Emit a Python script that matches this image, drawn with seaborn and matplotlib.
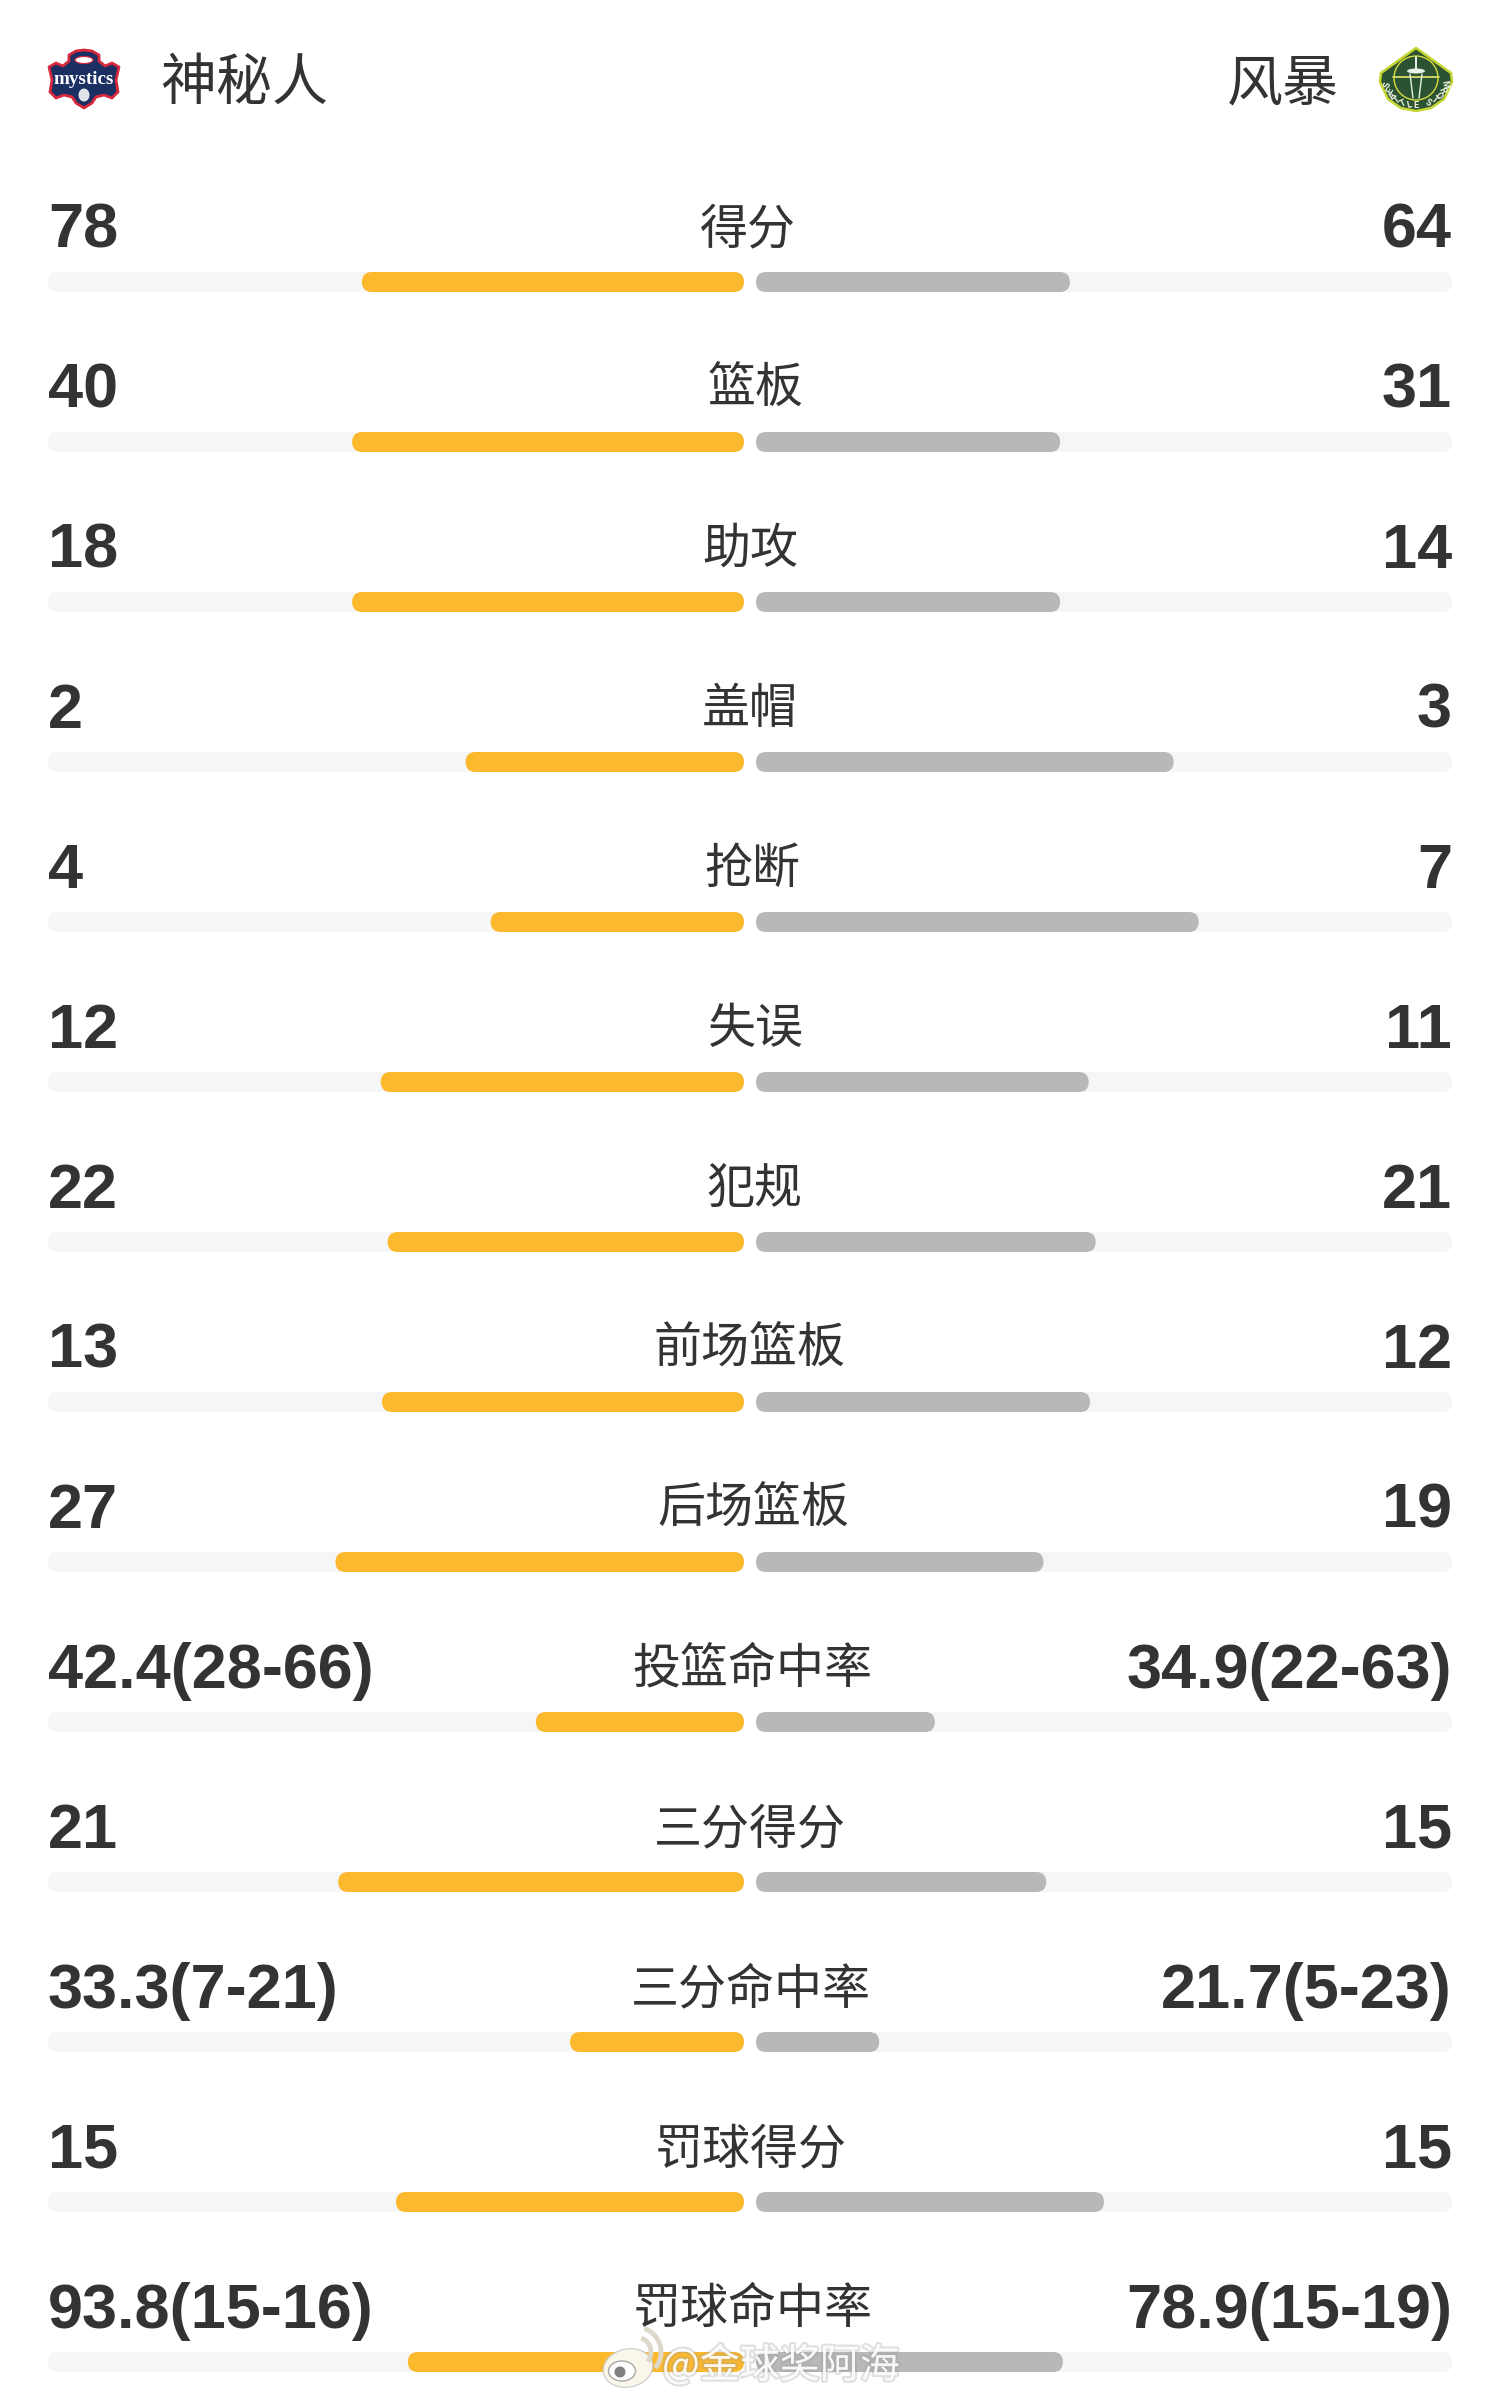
import numpy as np
import matplotlib
matplotlib.use('Agg')
import matplotlib.pyplot as plt
import seaborn as sns
import matplotlib.patheffects as pe
from matplotlib.patches import FancyBboxPatch, Polygon, Circle, Ellipse, Arc
from matplotlib.transforms import IdentityTransform

team_left = '神秘人'
team_right = '风暴'
stat_names = ['得分', '篮板', '助攻', '盖帽', '抢断', '失误', '犯规', '前场篮板', '后场篮板',
              '投篮命中率', '三分得分', '三分命中率', '罚球得分', '罚球命中率']
left_labels = ['78', '40', '18', '2', '4', '12', '22', '13', '27', '42.4(28-66)', '21',
               '33.3(7-21)', '15', '93.8(15-16)']
right_labels = ['64', '31', '14', '3', '7', '11', '21', '12', '19', '34.9(22-63)', '15',
                '21.7(5-23)', '15', '78.9(15-19)']
# bar length as a share of the half track
left_share = [0.549, 0.563, 0.563, 0.400, 0.364, 0.522, 0.512, 0.520, 0.587, 0.299, 0.583,
              0.250, 0.500, 0.483]
right_share = [0.451, 0.437, 0.437, 0.600, 0.636, 0.478, 0.488, 0.480, 0.413, 0.257, 0.417,
               0.177, 0.500, 0.441]
track_share = [1.0] * len(stat_names)

GOLD = '#fdb92e'
GREY = '#b8b8b8'
TRACK = '#f5f6f7'
INK = '#333333'
W, H = 1500, 2400
ROW0, ROW_STEP = 282, 160
# the centre labels are not quite centred in the original
LABEL_NUDGE = [-2, 6, 0, 0, 2, 6, 5, 0, 3, 2, 0, 1, 1, 3]

sns.set_theme(style='white')
plt.rcParams['font.family'] = ['Noto Sans CJK SC', 'DejaVu Sans']


def px(size):
    # font size in points for a size in pixels at dpi 100
    return size * 0.72


def round_bars(ax, radius=10):
    # swap seaborn's rectangles for pills of the same extent
    for bar in list(ax.patches):
        box = bar.get_window_extent()
        pill = FancyBboxPatch((box.x0 + radius, box.y0 + radius),
                              box.width - 2 * radius, box.height - 2 * radius,
                              boxstyle=f'round,pad={radius},rounding_size={radius}',
                              facecolor=bar.get_facecolor(), edgecolor='none',
                              transform=IdentityTransform(), zorder=bar.get_zorder())
        bar.set_visible(False)
        ax.add_patch(pill)


def draw_side(rect, values, colour, reverse):
    ax = fig.add_axes(rect)
    sns.barplot(x=track_share, y=stat_names, orient='h', color=TRACK, saturation=1,
                width=20 / ROW_STEP, ax=ax, zorder=1)
    sns.barplot(x=values, y=stat_names, orient='h', color=colour, saturation=1,
                width=20 / ROW_STEP, ax=ax, zorder=2)
    ax.set_xlim((1, 0) if reverse else (0, 1))
    ax.set_ylim((H - ROW0) / ROW_STEP, -ROW0 / ROW_STEP)
    ax.axis('off')
    return ax


def draw_mystics(ax):
    outline = [(49, 67), (56, 63), (63, 66), (69, 61), (69, 55), (76, 51), (84, 50), (92, 51),
               (99, 55), (99, 61), (105, 66), (112, 63), (119, 67), (116, 80), (118, 92),
               (112, 98), (104, 95), (96, 97), (92, 103), (84, 108), (76, 103), (72, 97),
               (64, 95), (56, 98), (50, 92), (52, 80)]
    ax.add_patch(Polygon(outline, closed=True, facecolor='#1b2f63', edgecolor='#d8283c', lw=2.0,
                         joinstyle='round', zorder=3))
    ax.text(84, 79, 'mystics', color='white', fontsize=px(19), fontweight='bold',
            family='Liberation Serif', ha='center', va='center', zorder=4)
    ax.add_patch(Ellipse((84, 60), 18, 7, facecolor='white', edgecolor='#d8283c', lw=0.8, zorder=4))
    ax.add_patch(Ellipse((84, 95), 11, 13, facecolor='#dfe3ea', edgecolor='none', zorder=4))


def draw_storm(ax):
    shape = [(1416, 48), (1451, 73), (1452, 82), (1444, 99), (1431, 108), (1416, 111),
             (1401, 108), (1388, 99), (1380, 82), (1381, 73)]
    ax.add_patch(Polygon(shape, closed=True, facecolor='#2c5234', edgecolor='#c4d52f', lw=1.8,
                         joinstyle='round', zorder=3))
    ax.add_patch(Circle((1416, 78), 22, facecolor='none', edgecolor='#d7dd3a', lw=1.0, zorder=4))
    ax.plot([1393, 1439], [77, 77], color='#e6e96a', lw=1.2, zorder=5)
    ax.add_patch(Ellipse((1416, 71), 18, 5, facecolor='#e8f1e8', edgecolor='none', zorder=5))
    ax.plot([1416, 1416], [57, 70], color='#e8f1e8', lw=1.4, zorder=5)
    ax.plot([1410, 1413], [74, 98], color='#e8f1e8', lw=1.0, zorder=5)
    ax.plot([1422, 1419], [74, 98], color='#e8f1e8', lw=1.0, zorder=5)
    word = 'SEATTLE STORM'
    for ang, ch in zip(np.linspace(168, 12, len(word)), word):
        a = np.radians(ang)
        ax.text(1416 + 29 * np.cos(a), 79 + 27 * np.sin(a), ch, color='#f0f4e0', fontsize=px(9),
                fontweight='bold', family='Roboto', ha='center', va='center',
                rotation=ang - 90, zorder=5)


def draw_watermark(ax):
    halo = [pe.withStroke(linewidth=3, foreground='#9a9a9a', alpha=0.30)]
    ax.add_patch(Ellipse((628, 2368), 50, 38, angle=-12, facecolor='#fbf6ea', edgecolor='#c9c9c9',
                         lw=0.8, zorder=6))
    ax.add_patch(Ellipse((622, 2371), 27, 20, facecolor='white', edgecolor='#a8a8a8', lw=1.0, zorder=7))
    ax.add_patch(Circle((620, 2372), 5.5, facecolor='#808080', edgecolor='none', zorder=8))
    ax.add_patch(Arc((636, 2352), 30, 30, theta1=-70, theta2=40, color='#ded8ca', lw=3.5, zorder=7))
    ax.add_patch(Arc((636, 2352), 50, 50, theta1=-70, theta2=40, color='#ded8ca', lw=3.5, zorder=7))
    ax.text(662, 2366, '@金球奖阿海', color='white', alpha=0.9, fontsize=px(40), ha='left',
            va='center', path_effects=halo, zorder=7)


fig = plt.figure(figsize=(W / 100, H / 100), dpi=100, facecolor='white')
ax_left = draw_side([48 / W, 0, 696 / W, 1], left_share, GOLD, True)
ax_right = draw_side([756 / W, 0, 696 / W, 1], right_share, GREY, False)
round_bars(ax_left)
round_bars(ax_right)

# everything that is not a bar sits on a pixel-sized overlay
over = fig.add_axes([0, 0, 1, 1], facecolor='none')
over.set_xlim(0, W)
over.set_ylim(H, 0)
over.axis('off')

over.text(160, 100, team_left, color=INK, fontsize=px(56), ha='left', va='baseline')
over.text(1339, 100, team_right, color=INK, fontsize=px(56), ha='right', va='baseline')
draw_mystics(over)
draw_storm(over)

for i, name in enumerate(stat_names):
    y = ROW0 + ROW_STEP * i
    over.text(48, y - 34, left_labels[i], color=INK, fontsize=px(63), fontweight='bold',
              family='Liberation Sans', ha='left', va='baseline')
    over.text(1452, y - 34, right_labels[i], color=INK, fontsize=px(63), fontweight='bold',
              family='Liberation Sans', ha='right', va='baseline')
    over.text(750 + LABEL_NUDGE[i], y - 39, name, color=INK, fontsize=px(48), ha='center',
              va='baseline')

draw_watermark(over)

fig.savefig('out.png', dpi=100, facecolor='white')
